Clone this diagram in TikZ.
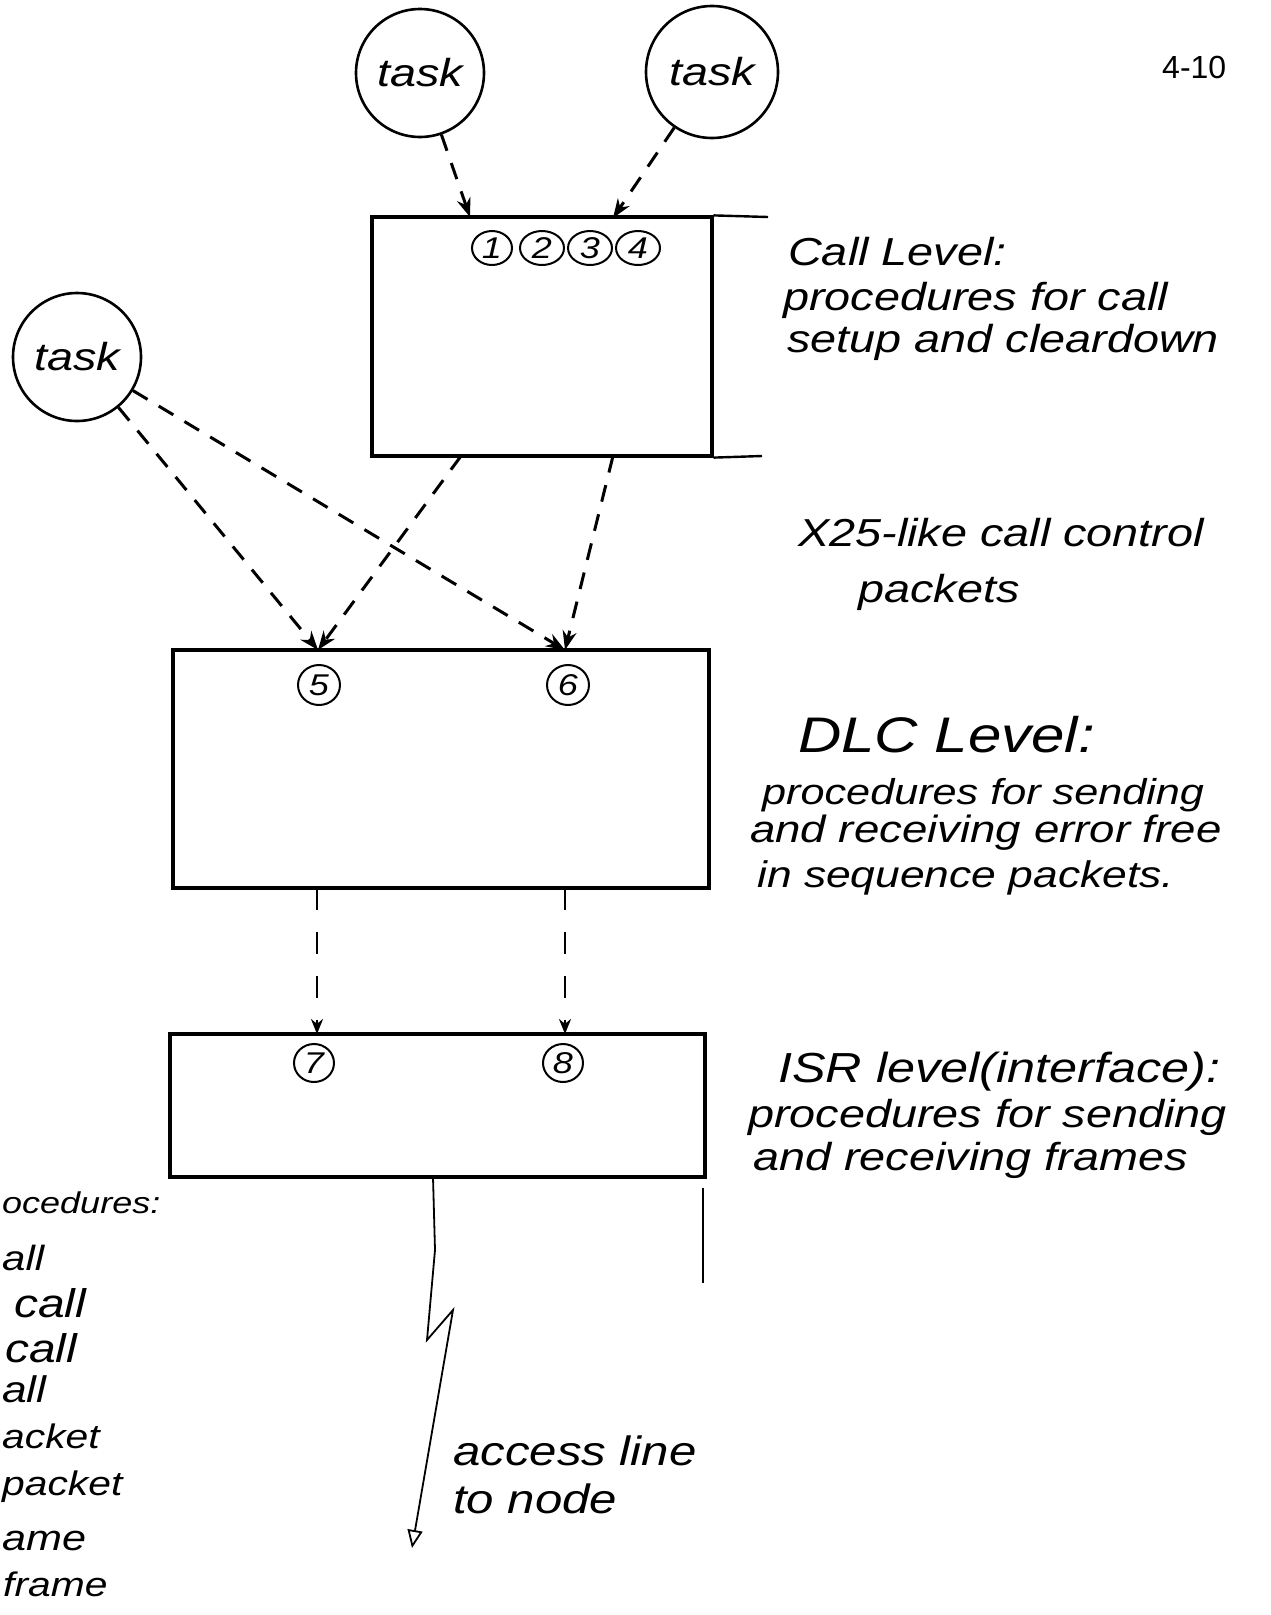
\documentclass[tikz,border=0pt]{standalone}
\usepackage{fontspec}
\newfontfamily\hand[FakeStretch=1.2]{Liberation Sans}
\newfontfamily\typed{Liberation Sans}
\usetikzlibrary{arrows.meta,shapes.geometric,calc}
\begin{document}
\begin{tikzpicture}[x=1pt,y=-1pt,
  hw/.style={font=\hand\itshape\fontsize{39}{42}\selectfont, inner sep=0pt, anchor=base west},
  box/.style={draw, line width=3.2pt, rectangle, inner sep=0pt},
  task/.style={draw, circle, line width=2.6pt, inner sep=0pt, font=\hand\itshape\fontsize{39}{42}\selectfont},
  num/.style={draw, ellipse, line width=2pt, minimum width=44pt, minimum height=34pt, inner sep=0pt, font=\hand\itshape\fontsize{30}{32}\selectfont},
  flow/.style={dash pattern=on 17pt off 13pt, line width=3pt, -{Stealth[length=19pt,width=14pt]}},
  flowv/.style={dash pattern=on 22pt off 22pt, line width=2.8pt, -{Stealth[length=15pt,width=12pt]}},
  thin/.style={line width=1.8pt},
]
\fill[white] (0,0) rectangle (1270,1615);
\useasboundingbox (0,0) rectangle (1270,1615);
\clip (0,0) rectangle (1270,1615);

% page number
\node[font=\typed\fontsize{32}{34}\selectfont, anchor=base west, inner sep=0pt] (pg) at (1162,78) {4-10};

% tasks
\node[task, minimum size=128pt] (t1) at (420,73) {task};
\node[task, minimum size=132pt] (t2) at (712,72) {task};
\node[task, minimum size=128pt] (t3) at (77,357) {task};

% level boxes
\node[box, minimum width=340pt, minimum height=239pt] (call) at (542,336.5) {};
\node[box, minimum width=536pt, minimum height=238pt] (dlc) at (441,769) {};
\node[box, minimum width=535pt, minimum height=143pt] (isr) at (437.5,1105.5) {};

% extension lines
\coordinate (ct) at (768,217);
\coordinate (cbx) at (762,456);
\draw[line width=2.4pt] (call.north east) -- (ct);
\draw[line width=2.4pt] (call.south east) -- (cbx);
\coordinate (iv0) at (703,1188);
\coordinate (iv1) at (703,1283);
\draw[thin] (iv0) -- (iv1);

% numbered entry points
\node[num, minimum width=40pt] (n1) at (492,248) {1};
\node[num] (n2) at (542,248) {2};
\node[num] (n3) at (590,248) {3};
\node[num] (n4) at (638,248) {4};
\node[num, minimum width=42pt, minimum height=40pt] (n5) at (319,685) {5};
\node[num, minimum width=42pt, minimum height=40pt] (n6) at (568,685) {6};
\node[num, minimum width=40pt, minimum height=38pt] (n7) at (314,1063) {7};
\node[num, minimum width=40pt, minimum height=38pt] (n8) at (563,1063) {8};

% connection points
\coordinate (c1) at (470,217);
\coordinate (c2) at (613,218);
\coordinate (cb1) at (461,456);
\coordinate (cb2) at (613,456);
\coordinate (d5) at (318,650);
\coordinate (d6) at (565,650);
\coordinate (db7) at (317,888);
\coordinate (db8) at (565,888);
\coordinate (i7) at (317,1034);
\coordinate (i8) at (565,1034);

% dashed flows
\draw[flow] (t1) -- (c1);
\draw[flow] (t2) -- (c2);
\draw[flow] (t3) -- (d5);
\draw[flow] (t3) -- (d6);
\draw[flow] (cb1) -- (d5);
\draw[flow] (cb2) -- (d6);
\draw[flowv] (db7) -- (i7);
\draw[flowv] (db8) -- (i8);

% access line
\coordinate (a0) at (433,1177);
\coordinate (a1) at (435,1250);
\coordinate (a2) at (427,1340);
\coordinate (a3) at (453,1310);
\coordinate (a4) at (412,1548);
\draw[thin, -{Triangle[open,length=18pt,width=15pt]}] (a0) -- (a1) -- (a2) -- (a3) -- (a4);
\node[hw, font=\hand\itshape\fontsize{41}{44}\selectfont] (acc1) at (453,1465) {access line};
\node[hw, font=\hand\itshape\fontsize{41}{44}\selectfont] (acc2) at (453,1513) {to node};

% Call level text
\node[hw] (cl1) at (788,265) {Call Level:};
\node[hw] (cl2) at (783,310) {procedures for call};
\node[hw] (cl3) at (787,352) {setup and cleardown};

% X25 text
\node[hw] (x1) at (798,546) {X25-like call control};
\node[hw] (x2) at (858,602) {packets};

% DLC text
\node[hw, font=\hand\itshape\fontsize{50}{52}\selectfont] (dl1) at (798,752) {DLC Level:};
\node[hw, font=\hand\itshape\fontsize{36}{40}\selectfont] (dl2) at (762,804) {procedures for sending};
\node[hw, font=\hand\itshape\fontsize{38}{40}\selectfont] (dl3) at (750,842) {and receiving error free};
\node[hw, font=\hand\itshape\fontsize{37}{40}\selectfont] (dl4) at (757,887) {in sequence packets.};

% ISR text
\node[hw, font=\hand\itshape\fontsize{42}{44}\selectfont] (is1) at (778,1082) {ISR level(interface):};
\node[hw] (is2) at (748,1127) {procedures for sending};
\node[hw] (is3) at (753,1170) {and receiving frames};

% left list, as far as it shows at the page edge
\node[hw, font=\hand\itshape\fontsize{30}{32}\selectfont] (l1) at (2,1213) {ocedures:};
\node[hw, font=\hand\itshape\fontsize{35}{38}\selectfont] (l2) at (2,1270) {all};
\node[hw, font=\hand\itshape\fontsize{40}{42}\selectfont] (l3) at (14,1317) {call};
\node[hw, font=\hand\itshape\fontsize{40}{42}\selectfont] (l4) at (5,1362) {call};
\node[hw, font=\hand\itshape\fontsize{37}{40}\selectfont] (l5) at (2,1402) {all};
\node[hw, font=\hand\itshape\fontsize{34}{36}\selectfont] (l6) at (2,1448) {acket};
\node[hw, font=\hand\itshape\fontsize{34}{36}\selectfont] (l7) at (2,1495) {packet};
\node[hw, font=\hand\itshape\fontsize{36}{38}\selectfont] (l8) at (2,1550) {ame};
\node[hw, font=\hand\itshape\fontsize{34}{36}\selectfont] (l9) at (3,1596) {frame};
\end{tikzpicture}
\end{document}
